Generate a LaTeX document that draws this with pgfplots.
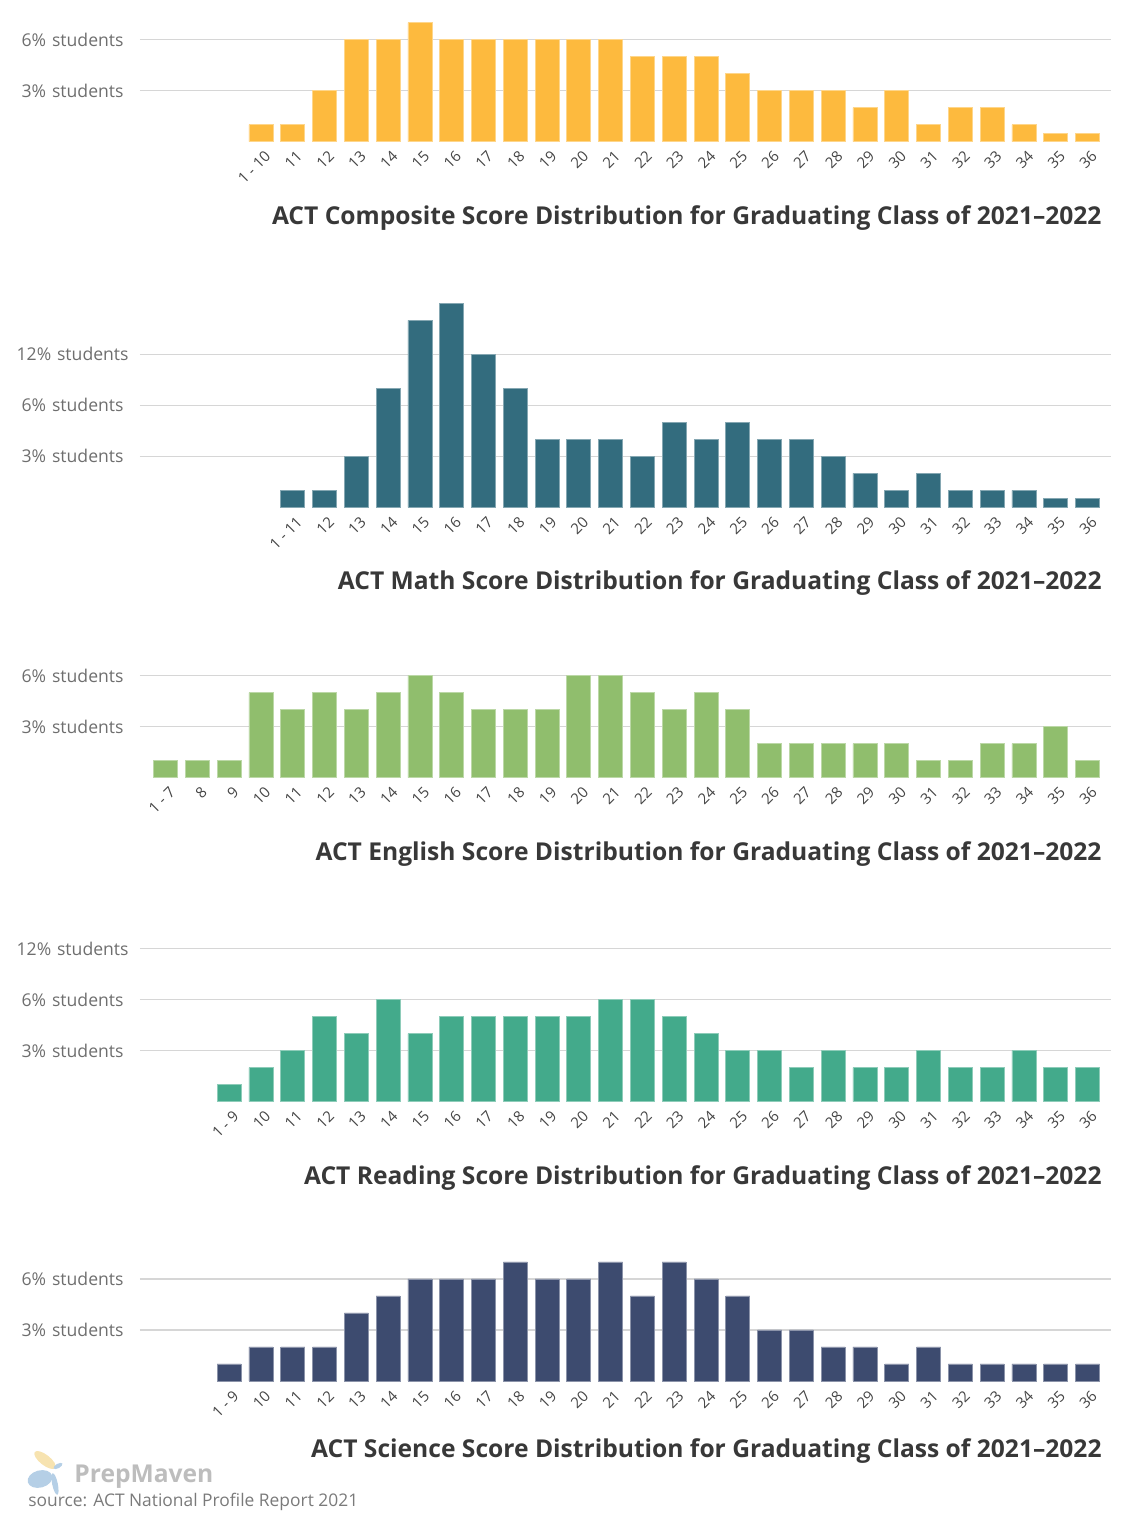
\documentclass[border=0pt]{standalone}
\usepackage{pgfplots}
\pgfplotsset{compat=1.18}
\usepackage{fontspec}
\setmainfont{Open Sans}
\definecolor{cComp}{HTML}{FDBA3E}
\definecolor{cMath}{HTML}{336C7E}
\definecolor{cEng}{HTML}{90BE6D}
\definecolor{cRead}{HTML}{43AA8B}
\definecolor{cSci}{HTML}{3D4B6F}
\definecolor{gridc}{HTML}{D6D6D6}
\definecolor{ylab}{HTML}{6E6E6E}
\definecolor{xlab}{HTML}{454545}
\definecolor{ttl}{HTML}{383838}
\definecolor{srcc}{HTML}{7A7A7A}
\definecolor{logoc}{HTML}{BDBDBD}
\definecolor{logoy}{HTML}{F7E3B0}
\definecolor{logob}{HTML}{B5CFE6}
\pgfplotsset{
  panel/.style={
    scale only axis,
    x=15.895pt, y=8.5pt,
    xmin=-0.805, xmax=29.74,
    ymin=0,
    enlargelimits=false,
    anchor=south west,
    axis line style={draw=none},
    major tick length=0pt,
    tick style={draw=none},
    ymajorgrids,
    grid style={color=gridc, line width=0.6pt},
    xtick=data,
    ybar, bar width=12pt,
    clip=false,
    yticklabel style={font=\fontsize{8.8}{10}\selectfont, color=ylab, anchor=east, inner sep=0pt, text width=62pt, align=center, xshift=-2.5pt},
    xticklabel style={font=\fontsize{7.5}{9}\selectfont, color=xlab, xshift=3.5pt, yshift=-6pt, rotate=45, anchor=east, inner sep=0pt},
  },
}
\tikzset{ttlstyle/.style={anchor=base east, inner sep=0pt, text=ttl, font=\fontsize{12.3}{14}\selectfont\bfseries}}
\begin{document}
\begin{tikzpicture}
\useasboundingbox (0,0) rectangle (564pt,768pt);
% Composite
\begin{axis}[panel, at={(70pt,697.15pt)}, ymax=7.5, ytick={3,6}, yticklabels={3\% students, 6\% students},
  xticklabels={1 - 10,11,12,13,14,15,16,17,18,19,20,21,22,23,24,25,26,27,28,29,30,31,32,33,34,35,36}]
\addplot[fill=cComp, draw=cComp!60!white, line width=0.4pt] coordinates {
(3,1) (4,1) (5,3) (6,6) (7,6) (8,7) (9,6) (10,6) (11,6) (12,6) (13,6) (14,6) (15,5) (16,5) (17,5)
(18,4) (19,3) (20,3) (21,3) (22,2) (23,3) (24,1) (25,2) (26,2) (27,1) (28,0.5) (29,0.5)};
\end{axis}
\node[ttlstyle] at (551pt,655.85pt) {ACT Composite Score Distribution for Graduating Class of 2021–2022};
% Math
\begin{axis}[panel, at={(70pt,514.35pt)}, ymax=12.5, ytick={3,6,9}, yticklabels={3\% students, 6\% students, 12\% students},
  xticklabels={1 - 11,12,13,14,15,16,17,18,19,20,21,22,23,24,25,26,27,28,29,30,31,32,33,34,35,36}]
\addplot[fill=cMath, draw=cMath!60!white, line width=0.4pt] coordinates {
(4,1) (5,1) (6,3) (7,7) (8,11) (9,12) (10,9) (11,7) (12,4) (13,4) (14,4) (15,3) (16,5) (17,4)
(18,5) (19,4) (20,4) (21,3) (22,2) (23,1) (24,2) (25,1) (26,1) (27,1) (28,0.5) (29,0.5)};
\end{axis}
\node[ttlstyle] at (551pt,473.05pt) {ACT Math Score Distribution for Graduating Class of 2021–2022};
% English
\begin{axis}[panel, at={(70pt,379.15pt)}, ymax=6.5, ytick={3,6}, yticklabels={3\% students, 6\% students},
  xticklabels={1 - 7,8,9,10,11,12,13,14,15,16,17,18,19,20,21,22,23,24,25,26,27,28,29,30,31,32,33,34,35,36}]
\addplot[fill=cEng, draw=cEng!60!white, line width=0.4pt] coordinates {
(0,1) (1,1) (2,1) (3,5) (4,4) (5,5) (6,4) (7,5) (8,6) (9,5) (10,4) (11,4) (12,4) (13,6) (14,6)
(15,5) (16,4) (17,5) (18,4) (19,2) (20,2) (21,2) (22,2) (23,2) (24,1) (25,1) (26,2) (27,2) (28,3) (29,1)};
\end{axis}
\node[ttlstyle] at (551pt,337.85pt) {ACT English Score Distribution for Graduating Class of 2021–2022};
% Reading
\begin{axis}[panel, at={(70pt,217.15pt)}, ymax=9.5, ytick={3,6,9}, yticklabels={3\% students, 6\% students, 12\% students},
  xticklabels={1 - 9,10,11,12,13,14,15,16,17,18,19,20,21,22,23,24,25,26,27,28,29,30,31,32,33,34,35,36}]
\addplot[fill=cRead, draw=cRead!60!white, line width=0.4pt] coordinates {
(2,1) (3,2) (4,3) (5,5) (6,4) (7,6) (8,4) (9,5) (10,5) (11,5) (12,5) (13,5) (14,6) (15,6)
(16,5) (17,4) (18,3) (19,3) (20,2) (21,3) (22,2) (23,2) (24,3) (25,2) (26,2) (27,3) (28,2) (29,2)};
\end{axis}
\node[ttlstyle] at (551pt,175.85pt) {ACT Reading Score Distribution for Graduating Class of 2021–2022};
% Science
\begin{axis}[panel, at={(70pt,77.5pt)}, ymax=7.5, ytick={3,6}, yticklabels={3\% students, 6\% students},
  xticklabels={1 - 9,10,11,12,13,14,15,16,17,18,19,20,21,22,23,24,25,26,27,28,29,30,31,32,33,34,35,36}]
\addplot[fill=cSci, draw=cSci!60!white, line width=0.4pt] coordinates {
(2,1) (3,2) (4,2) (5,2) (6,4) (7,5) (8,6) (9,6) (10,6) (11,7) (12,6) (13,6) (14,7) (15,5)
(16,7) (17,6) (18,5) (19,3) (20,3) (21,2) (22,2) (23,1) (24,2) (25,1) (26,1) (27,1) (28,1) (29,1)};
\end{axis}
\node[ttlstyle] at (551pt,39.3pt) {ACT Science Score Distribution for Graduating Class of 2021–2022};
% logo
\fill[logoy, rotate around={-38:(22.5pt,38pt)}] (22.5pt,38pt) ellipse (6.5pt and 2.6pt);
\fill[logob, rotate around={15:(20pt,28.5pt)}] (20pt,28.5pt) ellipse (6.3pt and 4.3pt);
\fill[logob, rotate around={-78:(27.5pt,26pt)}] (27.5pt,26pt) ellipse (5.5pt and 1.4pt);
\fill[logob, rotate around={30:(29pt,35pt)}] (29pt,35pt) ellipse (2.5pt and 1.1pt);
\node[anchor=base west, inner sep=0pt, text=logoc, font=\fontsize{12.3}{14}\selectfont\bfseries] at (37pt,27pt) {PrepMaven};
\node[anchor=base west, inner sep=0pt, text=srcc, font=\fontsize{8.7}{10}\selectfont] at (14pt,14.5pt) {source: ACT National Profile Report 2021};
\end{tikzpicture}
\end{document}
